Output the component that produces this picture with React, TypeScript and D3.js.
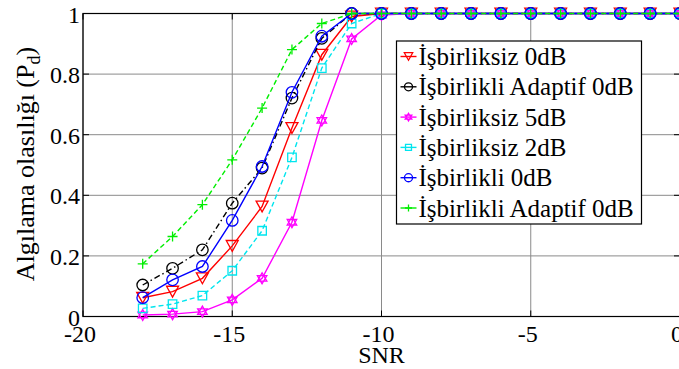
import React from "react";
import * as d3 from "d3";

const snr = [-18, -17, -16, -15, -14, -13, -12, -11, -10, -9, -8, -7, -6, -5, -4, -3, -2, -1, 0];
const isbirliksiz0 = [0.062, 0.082, 0.126, 0.233, 0.363, 0.622, 0.864, 0.99, 1, 1, 1, 1, 1, 1, 1, 1, 1, 1, 1];
const adaptif0Black = [0.104, 0.159, 0.22, 0.374, 0.49, 0.721, 0.918, 1, 1, 1, 1, 1, 1, 1, 1, 1, 1, 1, 1];
const isbirliksiz5 = [0.005, 0.008, 0.016, 0.055, 0.126, 0.311, 0.647, 0.916, 0.995, 1, 1, 1, 1, 1, 1, 1, 1, 1, 1];
const isbirliksiz2 = [0.027, 0.041, 0.069, 0.151, 0.283, 0.525, 0.82, 0.967, 1, 1, 1, 1, 1, 1, 1, 1, 1, 1, 1];
const isbirlikli0 = [0.062, 0.121, 0.165, 0.317, 0.495, 0.74, 0.925, 1, 1, 1, 1, 1, 1, 1, 1, 1, 1, 1, 1];
const adaptif0Green = [0.174, 0.264, 0.369, 0.517, 0.688, 0.881, 0.967, 1, 1, 1, 1, 1, 1, 1, 1, 1, 1, 1, 1];

const xTicks = [-20, -15, -10, -5, 0];
const yTicks = [0, 0.2, 0.4, 0.6, 0.8, 1];
const yTickLabels = ["0", "0.2", "0.4", "0.6", "0.8", "1"];

type Marker = "tri" | "circle" | "hex" | "square" | "plus";
const series: { name: string; values: number[]; color: string; dash: string; marker: Marker }[] = [
  { name: "İşbirliksiz 0dB", values: isbirliksiz0, color: "#ff0000", dash: "", marker: "tri" },
  { name: "İşbirlikli Adaptif 0dB", values: adaptif0Black, color: "#000000", dash: "6,3,1.5,3", marker: "circle" },
  { name: "İşbirliksiz 5dB", values: isbirliksiz5, color: "#ff00ff", dash: "", marker: "hex" },
  { name: "İşbirliksiz 2dB", values: isbirliksiz2, color: "#00e5ee", dash: "5,3", marker: "square" },
  { name: "İşbirlikli 0dB", values: isbirlikli0, color: "#0000ff", dash: "", marker: "circle" },
  { name: "İşbirlikli Adaptif 0dB", values: adaptif0Green, color: "#00ee00", dash: "5,3", marker: "plus" },
];

const W = 679, H = 369;
const L = 83, R = 680, T = 13.5, B = 316.5;
const FONT = "Liberation Serif";

function markerPath(m: Marker, s: number): string {
  switch (m) {
    case "tri": {
      const h = s * 0.9;
      return `M${-s / 2},${-h / 2}L${s / 2},${-h / 2}L0,${h / 2}Z`;
    }
    case "square":
      return `M${-s / 2},${-s / 2}h${s}v${s}h${-s}Z`;
    case "plus":
      return `M${-s / 2},0H${s / 2}M0,${-s / 2}V${s / 2}`;
    case "hex": {
      const r = s / 2;
      const pts = (off: number) =>
        [0, 1, 2].map((i) => {
          const a = off + (i * 2 * Math.PI) / 3;
          return [r * Math.sin(a), -r * Math.cos(a)];
        });
      const t1 = pts(0), t2 = pts(Math.PI);
      const tri = (p: number[][]) => `M${p[0][0]},${p[0][1]}L${p[1][0]},${p[1][1]}L${p[2][0]},${p[2][1]}Z`;
      return tri(t1) + tri(t2);
    }
  }
  return "";
}

function MarkerShape({ m, x, y, color, s }: { m: Marker; x: number; y: number; color: string; s: number }) {
  if (m === "circle") {
    return <circle cx={x} cy={y} r={s / 2} fill="none" stroke={color} strokeWidth={1.3} />;
  }
  return <path d={markerPath(m, s)} transform={`translate(${x},${y})`} fill="none" stroke={color} strokeWidth={1.3} />;
}

const sizes: Record<Marker, number> = { tri: 12, circle: 11.5, hex: 11, square: 8.5, plus: 10 };

export default function App() {
  const x = d3.scaleLinear().domain([-20, 0]).range([L, R]);
  const y = d3.scaleLinear().domain([0, 1]).range([B, T]);
  const line = d3
    .line<number>()
    .x((_, i) => x(snr[i]))
    .y((v) => y(v));

  const legX = 396.5, legY = 41, legW = 245, legH = 183;
  const rowH = 30.3;

  return (
    <svg width={W} height={H} style={{ position: "absolute", left: 0, top: 0, background: "#fff" }}>
      <rect x={0} y={0} width={W} height={H} fill="#fff" />
      {xTicks.map((t) => (
        <line key={"gx" + t} x1={x(t)} x2={x(t)} y1={T} y2={B} stroke="#8a8a8a" strokeWidth={1} />
      ))}
      {yTicks.map((t) => (
        <line key={"gy" + t} x1={L} x2={R} y1={y(t)} y2={y(t)} stroke="#8a8a8a" strokeWidth={1} />
      ))}
      {xTicks.map((t) => (
        <g key={"tx" + t}>
          <line x1={x(t)} x2={x(t)} y1={B} y2={B - 6} stroke="#000" />
          <line x1={x(t)} x2={x(t)} y1={T} y2={T + 6} stroke="#000" />
        </g>
      ))}
      {yTicks.map((t) => (
        <g key={"ty" + t}>
          <line x1={L} x2={L + 6} y1={y(t)} y2={y(t)} stroke="#000" />
          <line x1={R} x2={R - 6} y1={y(t)} y2={y(t)} stroke="#000" />
        </g>
      ))}
      <rect x={L} y={T} width={R - L} height={B - T} fill="none" stroke="#000" strokeWidth={1.2} />
      {series.map((s, k) => (
        <g key={"s" + k}>
          <path d={line(s.values) || ""} fill="none" stroke={s.color} strokeWidth={1.4} strokeDasharray={s.dash || undefined} />
          {s.values.map((v, i) => (
            <MarkerShape key={i} m={s.marker} x={x(snr[i])} y={y(v)} color={s.color} s={sizes[s.marker]} />
          ))}
        </g>
      ))}
      {xTicks.map((t) => (
        <text key={"lx" + t} x={x(t) - 3} y={342} fontSize={24} textAnchor="middle" fontFamily={FONT}>
          {t === 0 ? "0" : "-" + Math.abs(t)}
        </text>
      ))}
      {yTicks.map((t, i) => (
        <text key={"ly" + t} x={80} y={y(t) + 9} fontSize={24} textAnchor="end" fontFamily={FONT}>
          {yTickLabels[i]}
        </text>
      ))}
      <text x={(L + R) / 2} y={363} fontSize={24} textAnchor="middle" fontFamily={FONT}>
        SNR
      </text>
      <text transform={`translate(34,164) rotate(-90)`} fontSize={26} textAnchor="middle" fontFamily={FONT}>
        Algılama olasılığı (P<tspan fontSize={18} dy={6}>d</tspan>
        <tspan dy={-6}>)</tspan>
      </text>
      <rect x={legX} y={legY} width={legW} height={legH} fill="#fff" stroke="#000" strokeWidth={1.2} />
      {series.map((s, k) => {
        const cy = legY + 15.5 + k * rowH;
        return (
          <g key={"lg" + k}>
            <line x1={legX + 4} x2={legX + 20} y1={cy} y2={cy} stroke={s.color} strokeWidth={1.4} />
            <MarkerShape m={s.marker} x={legX + 12} y={cy} color={s.color} s={sizes[s.marker] * 0.7} />
            <text x={legX + 22} y={cy + 8.5} fontSize={25} fontFamily={FONT}>
              {s.name}
            </text>
          </g>
        );
      })}
    </svg>
  );
}
